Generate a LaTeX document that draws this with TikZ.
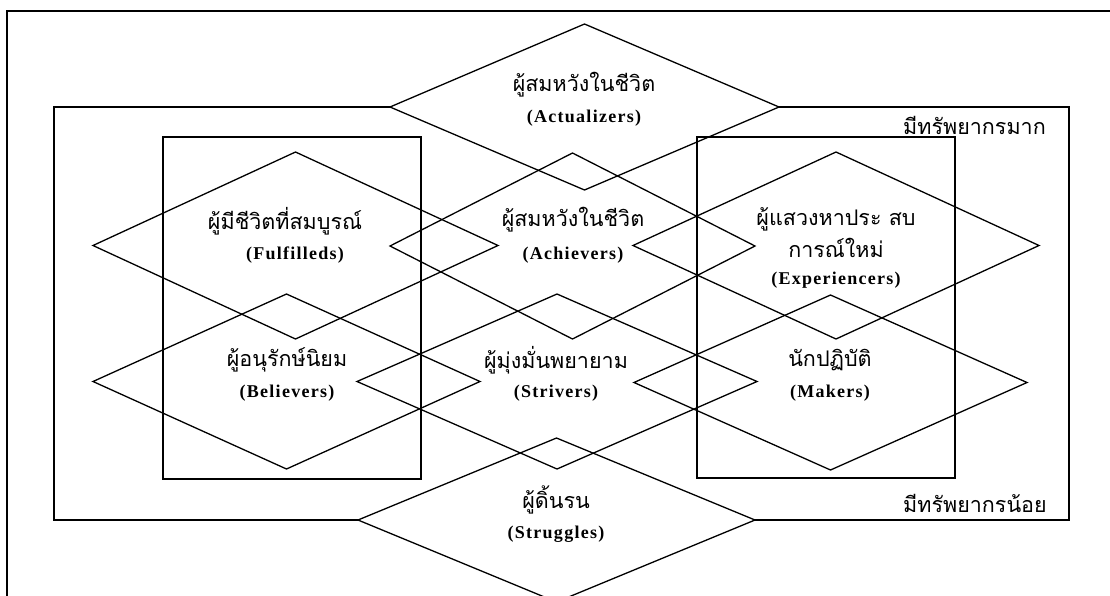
\documentclass[tikz,border=0pt]{standalone}
\usepackage{fontspec}
\setmainfont{Liberation Serif}
\newfontfamily\thaifont[Script=Thai]{Loma}
\newfontfamily\enfont[LetterSpace=7]{Liberation Serif}
\usetikzlibrary{shapes.geometric}
\tikzset{
  seg/.style={diamond, draw, line width=1.3pt, inner sep=0pt, outer sep=0pt},
  box/.style={rectangle, draw, line width=1.3pt, inner sep=0pt, outer sep=0pt},
  th/.style={font=\thaifont\fontsize{21.5}{24}\selectfont, inner sep=0pt},
  en/.style={font=\enfont\bfseries\fontsize{18}{20}\selectfont, inner sep=0pt},
  lab/.style={font=\thaifont\fontsize{21.5}{24}\selectfont, inner sep=0pt, anchor=west}
}
\begin{document}
\begin{tikzpicture}[x=1pt,y=-1pt]
\useasboundingbox (0,0) rectangle (1110,595);
% outer frame (cut by the page)
\draw[line width=1.8pt] (7,600) -- (7,11) -- (1115,11);
% inner rectangles
\node[box, minimum width=258pt, minimum height=342pt] (lbox) at (292,308) {};
\node[box, minimum width=258pt, minimum height=341pt] (rbox) at (826,307.5) {};
% diamonds
\node[seg, minimum width=389pt, minimum height=166pt] (act) at (584.5,107) {};
\node[seg, minimum width=405pt, minimum height=187pt] (ful) at (295.5,245.5) {};
\node[seg, minimum width=365pt, minimum height=186pt] (ach) at (572.5,246) {};
\node[seg, minimum width=406pt, minimum height=187pt] (exp) at (836,245.5) {};
\node[seg, minimum width=387pt, minimum height=175pt] (bel) at (286.5,381.5) {};
\node[seg, minimum width=400pt, minimum height=175pt] (stv) at (557,381.5) {};
\node[seg, minimum width=393pt, minimum height=175pt] (mak) at (830.5,382.5) {};
\node[seg, minimum width=397pt, minimum height=164pt] (stg) at (556.5,520) {};
% large rectangle, hidden inside the top and bottom diamonds
\draw[line width=1.3pt] (act.west) -| (54,520) -- (stg.west);
\draw[line width=1.3pt] (stg.east) -| (1069,107) -- (act.east);
% texts
\node[th] (t1) at (584,85) {ผู้สมหวังในชีวิต};
\node[en] (e1) at (584,118) {(Actualizers)};
\node[th] (t2) at (285,221) {ผู้มีชีวิตที่สมบูรณ์};
\node[en] (e2) at (295,255) {(Fulfilleds)};
\node[th] (t3) at (573,220) {ผู้สมหวังในชีวิต};
\node[en] (e3) at (573,255) {(Achievers)};
\node[th] (t4) at (836,219) {ผู้แสวงหาประ สบ};
\node[th] (t4b) at (836,248) {การณ์ใหม่};
\node[en] (e4) at (836,280) {(Experiencers)};
\node[th] (t5) at (287,360) {ผู้อนุรักษ์นิยม};
\node[en] (e5) at (287,393) {(Believers)};
\node[th] (t6) at (556,360) {ผู้มุ่งมั่นพยายาม};
\node[en] (e6) at (556,393) {(Strivers)};
\node[th] (t7) at (830,360) {นักปฏิบัติ};
\node[en] (e7) at (830,393) {(Makers)};
\node[th] (t8) at (556,500) {ผู้ดิ้นรน};
\node[en] (e8) at (556,534) {(Struggles)};
\node[lab] (rich) at (903,125) {มีทรัพยากรมาก};
\node[lab] (poor) at (903,503) {มีทรัพยากรน้อย};
\end{tikzpicture}
\end{document}
